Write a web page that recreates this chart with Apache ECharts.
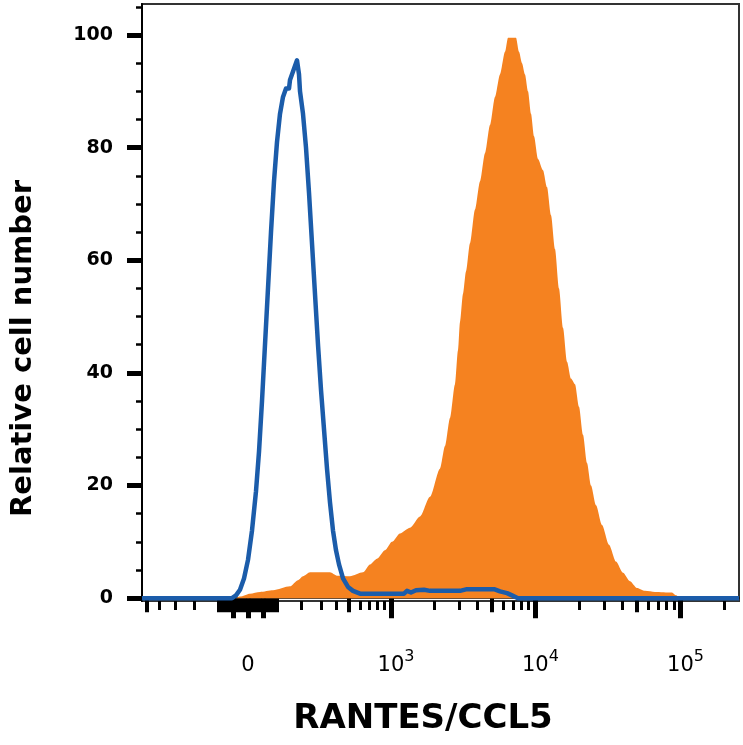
<!DOCTYPE html>
<html><head><meta charset="utf-8">
<script src="https://cdn.jsdelivr.net/npm/echarts@6/dist/echarts.min.js"></script>
<style>html,body{margin:0;padding:0;background:#fff}#c{width:743px;height:745px}</style>
</head><body><div id="c"></div>
<script>
// Histogram data: [display channel, relative cell number]
const isotype = [[0,0],[90,0],[94,0.5],[98,1.5],[102,3.5],[106,6.8],[110,12],[114,19],[117,26],[120,35],[123,45],[126,55],[129,65],[132,74],[135,81],[138,86],[141,89],[144,90.5],[147,90.5],[148,92],[151,93.5],[155,95.5],[157,93],[158,90],[161,86],[164,80],[167,72],[170,63],[173,54],[176,45],[179,37],[182,30],[185,23],[188,17],[191,12],[194,8.5],[197,6],[201,3.5],[206,2],[211,1.3],[218,0.8],[262,0.8],[265,1.3],[269,1.0],[274,1.4],[282,1.5],[288,1.3],[305,1.3],[318,1.3],[325,1.6],[352,1.6],[358,1.2],[365,0.9],[370,0.5],[376,0],[597,0]];
const stained = [[94,0],[98,0.3],[108,0.8],[118,1.1],[131,1.4],[148,2.1],[156,3.2],[161,3.9],[168,4.6],[188,4.6],[195,4.0],[208,3.9],[221,4.6],[228,6],[235,7],[243,8.5],[250,10],[258,11.5],[268,12.5],[278,14.5],[288,18],[298,23],[303,27],[308,32],[313,38],[316,44],[318,49],[321,54],[324,58],[328,63],[333,69],[338,74],[343,79],[348,84],[353,89],[358,93],[363,97],[366,99.5],[374,99.5],[377,97],[380,95],[383,93],[386,90],[389,86],[392,82],[396,78],[401,76],[405,73],[409,68],[413,62],[417,55],[421,48],[425,42],[429,39],[433,38],[437,34],[441,29],[445,24],[449,20],[454,16.5],[460,13],[467,9.5],[474,6.5],[481,4.5],[488,3],[495,1.8],[503,1.3],[513,1.1],[530,1.0],[534,0.5],[538,0]];

// X axis (biexponential) tick values in fluorescence units
const xLabelVals = [0, 1000, 10000, 100000];
const xLabelTexts = ['0', '10^3', '10^4', '10^5'];
const xTallVals = [-50, 0, 50, 1000, 10000, 100000];
const xMidVals = [-500, -100, -90, -80, -70, -60, -40, -30, -20, -10, 10, 20, 30, 40, 60, 70, 80, 90, 100, 500, 5000, 50000];
const xMinorVals = [-400, -300, -200, 200, 300, 400, 600, 700, 800, 900, 2000, 3000, 4000, 6000, 7000, 8000, 9000, 20000, 30000, 40000, 60000, 70000, 80000, 90000, 200000];

// Y axis ticks
const yMajorVals = [0, 20, 40, 60, 80, 100];
const yMinorVals = [5, 10, 15, 25, 30, 35, 45, 50, 55, 65, 70, 75, 85, 90, 95, 105];

const CH_MIN = 0, CH_MAX = 597;
function toCh(v) { return 106 + 63 * Math.asinh(v / 209); }
function chList(arr) { return arr.map(toCh).filter(c => c >= CH_MIN && c <= CH_MAX); }

const chart = echarts.init(document.getElementById('c'), null, {renderer: 'canvas'});
const baseX = {type: 'value', min: CH_MIN, max: CH_MAX, position: 'bottom', splitLine: {show: false}};
const baseY = {type: 'value', min: -0.5, max: 105.5, position: 'left', splitLine: {show: false}};

chart.setOption({
  animation: false,
  backgroundColor: '#fff',
  grid: {left: 142, top: 4, right: 4, bottom: 144, show: true, borderColor: '#333', borderWidth: 2, backgroundColor: 'transparent'},
  xAxis: [
    Object.assign({}, baseX, {
      axisLine: {show: true, lineStyle: {color: '#000', width: 1.5}},
      axisTick: {show: true, customValues: chList(xTallVals), length: 20, lineStyle: {color: '#000', width: 5}},
      axisLabel: {
        show: true, customValues: chList(xLabelVals), margin: 48, color: '#000',
        formatter: function (val) {
          let idx = 0, best = 1e9;
          xLabelVals.forEach((v, i) => { const d = Math.abs(toCh(v) - val); if (d < best) { best = d; idx = i; } });
          const t = xLabelTexts[idx];
          if (t.indexOf('^') < 0) return '{h|3}{b|' + t + '}{h|3}';
          const p = t.split('^');
          return '{h|' + p[1] + '}{b|' + p[0] + '}{s|' + p[1] + '}';
        },
        rich: {
          b: {fontSize: 21, fontFamily: 'DejaVu Sans', color: '#000'},
          s: {fontSize: 16, fontFamily: 'DejaVu Sans', color: '#000', padding: [0, 0, 18, 0]},
          h: {fontSize: 16, fontFamily: 'DejaVu Sans', color: 'rgba(0,0,0,0)', padding: [0, 0, 18, 0]}
        }
      },
      name: 'RANTES/CCL5', nameLocation: 'middle', nameGap: 101,
      nameTextStyle: {fontSize: 34, fontWeight: 'bold', fontFamily: 'DejaVu Sans', color: '#000', padding: [0, 35, 0, 0]}
    }),
    Object.assign({}, baseX, {
      axisLine: {show: false},
      axisTick: {show: true, customValues: chList(xMidVals), length: 14, lineStyle: {color: '#000', width: 4}},
      axisLabel: {show: false}
    }),
    Object.assign({}, baseX, {
      axisLine: {show: false},
      axisTick: {show: true, customValues: chList(xMinorVals), length: 9, lineStyle: {color: '#000', width: 3}},
      axisLabel: {show: false}
    })
  ],
  yAxis: [
    Object.assign({}, baseY, {
      axisLine: {show: true, lineStyle: {color: '#000', width: 2}},
      axisTick: {show: true, customValues: yMajorVals, length: 15, lineStyle: {color: '#000', width: 5}},
      axisLabel: {show: true, customValues: yMajorVals, margin: 29, fontSize: 19, fontWeight: 'bold', fontFamily: 'DejaVu Sans', color: '#000'},
      name: 'Relative cell number', nameLocation: 'middle', nameGap: 104, nameRotate: 90,
      nameTextStyle: {fontSize: 29, fontWeight: 'bold', fontFamily: 'DejaVu Sans', color: '#000', padding: [0, 92, 0, 0]}
    }),
    Object.assign({}, baseY, {
      axisLine: {show: false},
      axisTick: {show: true, customValues: yMinorVals, length: 6, lineStyle: {color: '#000', width: 2.5}},
      axisLabel: {show: false}
    })
  ],
  series: [
    {type: 'line', name: 'RANTES/CCL5', data: stained, xAxisIndex: 0, yAxisIndex: 0, symbol: 'none',
     smooth: 0.25, smoothMonotone: 'x',
     lineStyle: {width: 0}, areaStyle: {color: '#F58220', opacity: 1}, z: 2},
    {type: 'line', name: 'Isotype', data: isotype, xAxisIndex: 0, yAxisIndex: 0, symbol: 'none',
     lineStyle: {width: 4.5, color: '#1B5CAA', join: 'round'}, z: 3}
  ]
});
</script>
</body></html>
